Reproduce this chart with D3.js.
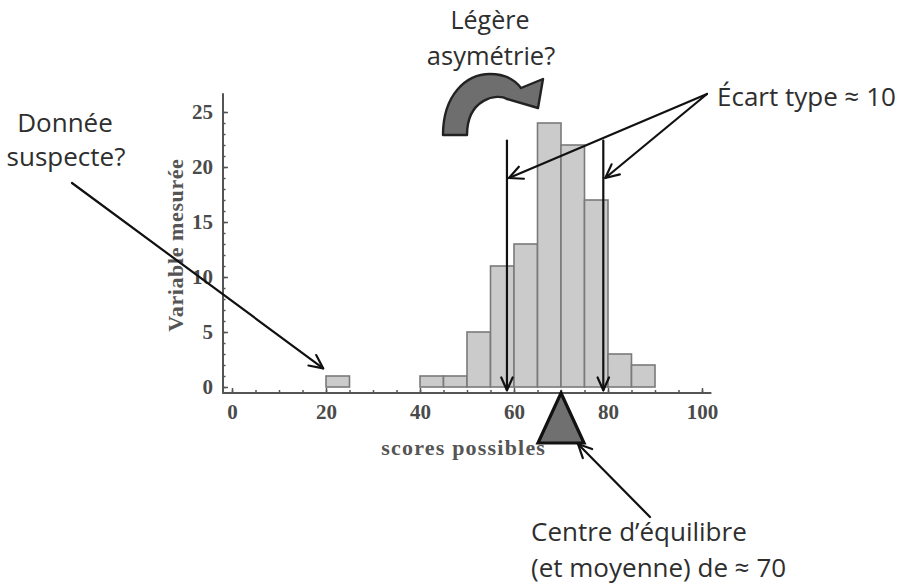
<!DOCTYPE html>
<html><head><meta charset="utf-8">
<script src="https://cdn.jsdelivr.net/npm/d3@7"></script>
<style>body{margin:0;background:#fff}svg{display:block}</style>
</head><body>
<svg id="c" width="906" height="585"></svg>
<script>
// ---- data ----
const binStarts = [20, 40, 45, 50, 55, 60, 65, 70, 75, 80, 85];
const counts    = [1, 1, 1, 5, 11, 13, 24, 22, 17, 3, 2];
const binWidth = 5;
const xTicks = [0, 20, 40, 60, 80, 100];
const yTicks = [0, 5, 10, 15, 20, 25];
const sdLines = [58.5, 79];
const meanValue = 70;
const xLabel = "scores possibles";
const yLabel = "Variable mesurée";

const svg = d3.select("#c");
const x = d3.scaleLinear().domain([0, 100]).range([232, 702]);
const y = d3.scaleLinear().domain([0, 25]).range([387, 112]);
const xAxisY = y(0) + 6, yAxisX = x(0) - 9;

const bars = binStarts.map((s, i) => ({x0: s, x1: s + binWidth, v: counts[i]}));

// bars
svg.append("g").selectAll("rect").data(bars).join("rect")
  .attr("x", d => x(d.x0)).attr("width", d => x(d.x1) - x(d.x0))
  .attr("y", d => y(d.v)).attr("height", d => y(0) - y(d.v))
  .attr("fill", "#cbcbcb").attr("stroke", "#7a7a7a").attr("stroke-width", 1.6);

// axes
const axCol = "#555";
const tickFont = "Liberation Serif, Times New Roman, serif";
const gx = svg.append("g").attr("transform", `translate(0,${xAxisY})`);
gx.call(d3.axisBottom(x).tickValues(d3.range(0, 101, 5)).tickFormat("").tickSizeInner(-3).tickSizeOuter(0));
gx.call(g => g.select(".domain").remove());
const gx2 = svg.append("g").attr("transform", `translate(0,${xAxisY})`);
gx2.call(d3.axisBottom(x).tickValues(xTicks).tickSizeInner(-5).tickSizeOuter(0).tickPadding(11));
gx2.select(".domain").remove();
[gx, gx2].forEach(g => g.selectAll("line").attr("stroke", axCol).attr("stroke-width", 1.5));
gx2.selectAll("text").attr("font-family", tickFont).attr("font-size", 21).attr("font-weight", "bold").attr("fill", "#4a4a4a");

const gy = svg.append("g").attr("transform", `translate(${yAxisX},0)`);
gy.call(d3.axisLeft(y).tickValues(d3.range(0, 26, 1)).tickFormat("").tickSizeInner(-2.5).tickSizeOuter(0));
gy.select(".domain").remove();
const gy2 = svg.append("g").attr("transform", `translate(${yAxisX},0)`);
gy2.call(d3.axisLeft(y).tickValues(yTicks).tickSizeInner(-5).tickSizeOuter(0).tickPadding(10));
gy2.select(".domain").remove();
[gy, gy2].forEach(g => g.selectAll("line").attr("stroke", axCol).attr("stroke-width", 1.5));
gy2.selectAll("text").attr("font-family", tickFont).attr("font-size", 21).attr("font-weight", "bold").attr("fill", "#4a4a4a");

svg.append("line").attr("x1", x(-2.1)).attr("x2", x(102)).attr("y1", xAxisY).attr("y2", xAxisY)
  .attr("stroke", axCol).attr("stroke-width", 2);
svg.append("line").attr("x1", yAxisX).attr("x2", yAxisX).attr("y1", y(26.7)).attr("y2", xAxisY)
  .attr("stroke", axCol).attr("stroke-width", 2);

svg.append("text").attr("x", x(49.3)).attr("y", 455).attr("text-anchor", "middle")
  .attr("font-family", tickFont).attr("font-size", 22).attr("font-weight", "bold")
  .attr("letter-spacing", 1.2).attr("fill", "#555").text(xLabel);
svg.append("text").attr("transform", `translate(183,${y(12.9)}) rotate(-90)`).attr("text-anchor", "middle")
  .attr("font-family", tickFont).attr("font-size", 22).attr("font-weight", "bold")
  .attr("letter-spacing", 0.6).attr("fill", "#555").text(yLabel);

// ---- annotations ----
const ink = "#111";
function arrow(x1, y1, x2, y2, w = 2.2, len = 14, ang = 0.45) {
  const g = svg.append("g").attr("stroke", ink).attr("stroke-width", w).attr("fill", "none")
    .attr("stroke-linecap", "round").attr("stroke-linejoin", "round");
  g.append("line").attr("x1", x1).attr("y1", y1).attr("x2", x2).attr("y2", y2);
  const a = Math.atan2(y2 - y1, x2 - x1);
  const p = t => [x2 - len * Math.cos(a + t), y2 - len * Math.sin(a + t)];
  const l = p(ang), r = p(-ang);
  g.append("path").attr("d", `M${l[0]},${l[1]}L${x2},${y2}L${r[0]},${r[1]}`);
}

// standard deviation vertical arrows
sdLines.forEach(v => arrow(x(v), y(22.4), x(v), y(-0.3), 2.2, 14, 0.42));

// Écart type arrows
const ecOrigin = [707, 94];
sdLines.forEach(v => arrow(ecOrigin[0], ecOrigin[1], x(v) + 2, y(19), 2.2, 15, 0.45));

// Donnée suspecte arrow
arrow(72, 183, x(19.4), y(1.7), 2.2, 15, 0.45);

// balance triangle at the mean
const triH = 50, triW = 23;
const apex = [x(meanValue), xAxisY];
svg.append("path")
  .attr("d", `M${apex[0]},${apex[1]}L${apex[0] + triW},${apex[1] + triH}L${apex[0] - triW},${apex[1] + triH}Z`)
  .attr("fill", "#707070").attr("stroke", ink).attr("stroke-width", 3.2).attr("stroke-linejoin", "miter");
arrow(650, 517, apex[0] + triW - 6, apex[1] + triH + 1, 2.2, 15, 0.45);

// curved asymmetry arrow
svg.append("path")
  .attr("d", "M443,135 C443,95 466,74 490,74 C505,74 515,80 521,88 L543,79 L538,108 L507,99 C498,93 467,98 467,135 Z")
  .attr("fill", "#6e6e6e").attr("stroke", "#222").attr("stroke-width", 2.4).attr("stroke-linejoin", "round");

// texts
const annFont = "Open Sans, Noto Sans, sans-serif";
function label(txt, tx, ty, anchor, size) {
  svg.append("text").attr("x", tx).attr("y", ty).attr("text-anchor", anchor || "start")
    .attr("font-family", annFont).attr("font-size", size || 26).attr("fill", "#2e2e2e").text(txt);
}
label("Légère", 490, 29, "middle", 25);
label("asymétrie?", 491, 65, "middle", 25.5);
label("Donnée", 65, 132, "middle");
label("suspecte?", 66, 166, "middle");
label("Écart type ≈ 10", 717, 106);
label("Centre d’équilibre", 531, 541);
label("(et moyenne) de ≈ 70", 531, 577);
</script>
</body></html>
